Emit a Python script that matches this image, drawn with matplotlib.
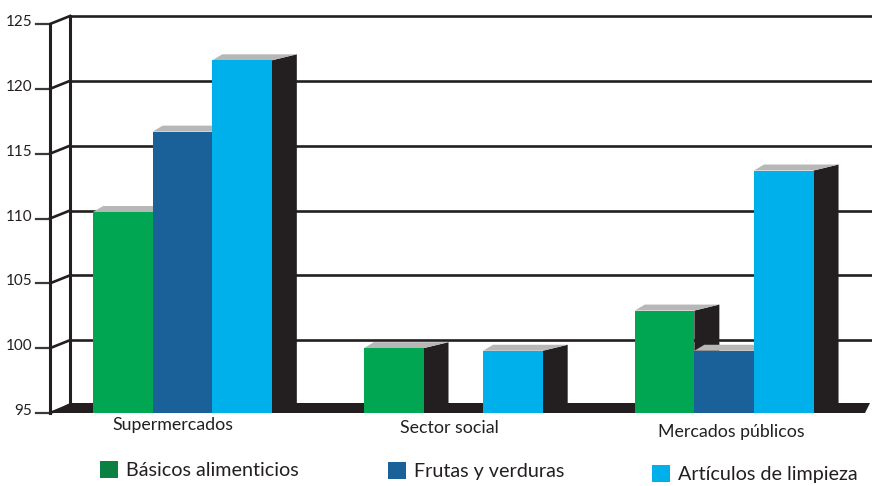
import numpy as np
import matplotlib
matplotlib.use("Agg")
import matplotlib.pyplot as plt
from matplotlib.patches import Polygon, Rectangle

plt.rcParams['font.family'] = ['Lato', 'DejaVu Sans']

# index values per channel (95 = floor of the chart)
categories = ["Supermercados", "Sector social", "Mercados públicos"]
series = ["Básicos alimenticios", "Frutas y verduras", "Artículos de limpieza"]
basicos = [110.5, 100.0, 102.9]
frutas = [116.7, np.nan, 99.8]
limpieza = [122.2, 99.8, 113.7]
yticks = [95, 100, 105, 110, 115, 120, 125]

front_colors = ["#00a651", "#1b6199", "#00b0eb"]
legend_colors = ["#0b8043", "#1b6199", "#00b0eb"]
DARK = "#231f20"
TOP = "#b7b7b7"

W, H, DPI = 872, 486, 100
fig = plt.figure(figsize=(W / DPI, H / DPI), dpi=DPI)
ax = fig.add_axes([50 / W, 73 / H, 815 / W, 389 / H])
xmin, xmax = -0.489, 2.52
ymin, ymax = 95, 125
ax.set_xlim(xmin, xmax)
ax.set_ylim(ymin, ymax)
ax.axis("off")

# pixel -> data unit helpers for the depth offsets
ppx = 815 / (xmax - xmin)
ppy = 389 / (ymax - ymin)
def px(v):
    return v / ppx
def py(v):
    return v / ppy

# back wall / grid
wdx, wdy = px(20), py(8)
right_edge = xmin + px(W - 50)
for t in yticks[1:]:
    ax.plot([xmin + wdx, right_edge], [t + wdy, t + wdy], color=DARK, lw=1.9,
            solid_capstyle="butt", clip_on=False, zorder=1)
for t in yticks:
    ax.plot([xmin, xmin + wdx], [t, t + wdy], color=DARK, lw=1.9, clip_on=False, zorder=1)
    ax.plot([xmin - px(14), xmin], [t, t], color="#3a3a3a", lw=1.6, clip_on=False, zorder=1)
    ax.text(xmin - px(18), t + py(2), str(t), ha="right", va="center", fontsize=11,
            color="#231f20", clip_on=False)
ax.plot([xmin, xmin], [ymin, ymax], color=DARK, lw=2.2, clip_on=False, zorder=2)
ax.plot([xmin + wdx, xmin + wdx], [ymin + wdy, ymax + wdy], color=DARK, lw=2.2,
        clip_on=False, zorder=1)

# floor
floor = Polygon([(xmin, ymin), (xmin + wdx, ymin + py(10)), (xmax + px(5), ymin + py(10)),
                 (xmax, ymin)], closed=True, fc=DARK, ec="none", zorder=2, clip_on=False)
ax.add_patch(floor)

# bars with oblique side and top faces
x = np.arange(len(categories))
w = 0.22
bdx, bdx_left, bdy = px(25), px(10), py(6)
for i, vals in enumerate([basicos, frutas, limpieza]):
    pos = x + (i - 1) * w
    z = 3 + i
    for xc, v in zip(pos, vals):
        if np.isnan(v):
            continue
        x0, x1 = xc - w / 2, xc + w / 2
        ax.add_patch(Polygon([(x1, ymin), (x1, v), (x1 + bdx, v + bdy), (x1 + bdx, ymin + bdy)],
                             closed=True, fc=DARK, ec="none", zorder=z))
        ax.add_patch(Polygon([(x0, v), (x0 + bdx_left, v + bdy), (x1 + bdx, v + bdy), (x1, v)],
                             closed=True, fc=TOP, ec="none", zorder=z))
    vals_arr = np.array(vals, dtype=float)
    ok = ~np.isnan(vals_arr)
    ax.bar(pos[ok], vals_arr[ok] - ymin, bottom=ymin, width=w, color=front_colors[i],
           edgecolor="none", zorder=z)

# category labels
label_dx = [-10, -4, 7]
label_dy = [-12, -15, -19]
for xc, name, ddx, ddy in zip(x, categories, label_dx, label_dy):
    ax.text(xc + px(ddx), ymin + py(ddy), name, ha="center", va="center",
            fontsize=12.8, color="#231f20", clip_on=False)

# legend along the bottom
legend_pos = [(100, 461), (388, 462), (652, 465)]
for (lx, ly), name, col in zip(legend_pos, series, legend_colors):
    fig.patches.append(Rectangle((lx / W, 1 - (ly + 17) / H), 18 / W, 17 / H,
                                 transform=fig.transFigure, fc=col, ec="none"))
    fig.text((lx + 26) / W, 1 - (ly + 9) / H, name, ha="left", va="center",
             fontsize=14.2, color="#231f20")

fig.savefig("out.png", dpi=DPI)
